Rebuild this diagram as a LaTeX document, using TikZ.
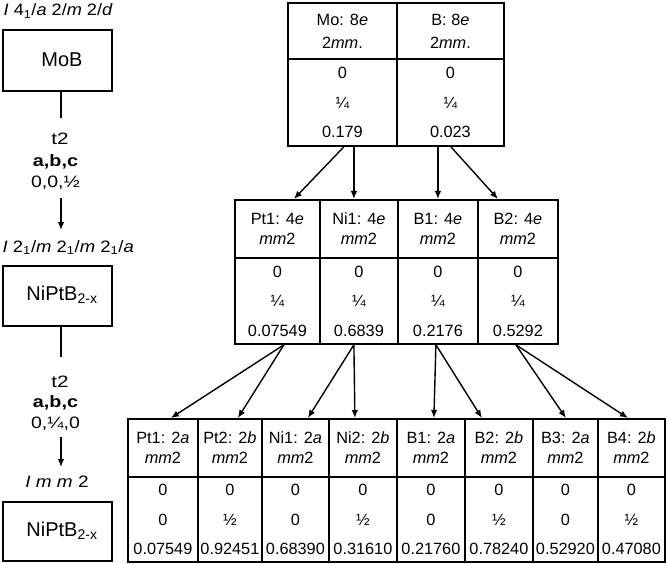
\documentclass[tikz,border=0pt]{standalone}
\usepackage{graphicx}
\usepackage{fontspec}
\setmainfont{Liberation Sans}
\usetikzlibrary{arrows.meta,calc}
% horizontally widened text for the left-hand labels
\newcommand{\widetxt}[2]{\scalebox{#1}[1]{#2}}
\begin{document}
\begin{tikzpicture}[x=1pt,y=-1pt,
  cell/.style={draw,line width=1.8pt,inner sep=0pt,anchor=north west,align=center},
  hdrtop/.style={cell,font=\fontsize{16.3}{23}\selectfont},
  hdr/.style={cell,font=\fontsize{16.3}{20}\selectfont},
  dat/.style={cell,font=\fontsize{16.3}{29.5}\selectfont},
  sgbox/.style={draw,line width=1.8pt,inner sep=0pt,anchor=north west,minimum width=109pt,minimum height=61pt},
  boxtext/.style={inner sep=0pt,font=\fontsize{20}{20}\selectfont},
  lbl/.style={inner sep=0pt,anchor=base,font=\fontsize{16.5}{16.5}\selectfont},
  sg/.style={inner sep=0pt,font=\fontsize{16.5}{16.5}\selectfont},
  conn/.style={line width=1.4pt},
  arr/.style={line width=1.4pt,-{Latex[length=8pt,width=6.5pt]}}]
\useasboundingbox (0,0) rectangle (666,564);

% ---- left column: space groups and group-subgroup steps ----
\node[sg,anchor=base west] (sg1) at (3.5,16)
  {\widetxt{1.1}{\textit{I} 4\textsubscript{1}/\textit{a} 2/\textit{m} 2/\textit{d}}};
\node[sgbox] (box1) at (2,29) {};
\node[boxtext] (box1t) at (62,59.5) {MoB};

\coordinate (l1e) at (61,118);
\draw[conn] (box1.south -| l1e) -- (l1e);
\node[lbl] (t2a) at (60,145) {\widetxt{1.25}{t2}};
\node[lbl] (abca) at (55.5,167) {\widetxt{1.2}{\textbf{a,b,c}}};
\node[lbl] (orga) at (55.5,188) {\widetxt{1.18}{0,0,½}};
\coordinate (a1s) at (61,198);
\coordinate (a1e) at (61,230);
\draw[arr] (a1s) -- (a1e);

\node[sg,anchor=base west] (sg2) at (2.5,252)
  {\widetxt{1.12}{\textit{I} 2\textsubscript{1}/\textit{m} 2\textsubscript{1}/\textit{m} 2\textsubscript{1}/\textit{a}}};
\node[sgbox,minimum height=60pt] (box2) at (2,265) {};
\node[boxtext] (box2t) at (62,295) {NiPtB\textsubscript{2-x}};

\coordinate (l2e) at (61,357);
\draw[conn] (box2.south -| l2e) -- (l2e);
\node[lbl] (t2b) at (60,387) {\widetxt{1.25}{t2}};
\node[lbl] (abcb) at (55.5,407) {\widetxt{1.2}{\textbf{a,b,c}}};
\node[lbl] (orgb) at (55.5,428) {\widetxt{1.18}{0,¼,0}};
\coordinate (a2s) at (61,437);
\coordinate (a2e) at (61,467);
\draw[arr] (a2s) -- (a2e);

\node[sg,anchor=base] (sg3) at (57,487) {\widetxt{1.15}{\textit{I m m} 2}};
\node[sgbox,minimum height=59pt] (box3) at (2,501) {};
\node[boxtext] (box3t) at (62,530.5) {NiPtB\textsubscript{2-x}};

% ---- Wyckoff positions, I 41/a 2/m 2/d ----
\foreach \n/\xa/\xb/\h/\z in {mo/287/396/{Mo: 8\textit{e}}/0.179,
                             b/396/503/{B: 8\textit{e}}/0.023}{
  \node[hdrtop,minimum width={(\xb-\xa)*1pt},minimum height=56pt] (\n-h) at (\xa,2)
    {\h\\2\textit{mm}.};
  \node[dat,minimum width={(\xb-\xa)*1pt},minimum height=87pt] (\n-d) at (\xa,58)
    {0\\¼\\\z};
}

% ---- Wyckoff positions, I 21/m 21/m 21/a ----
\foreach \n/\xa/\xb/\h/\z in {pta/234/319/{Pt1: 4\textit{e}}/0.07549,
                             nia/319/397/{Ni1: 4\textit{e}}/0.6839,
                             ba/397/477/{B1: 4\textit{e}}/0.2176,
                             bb/477/557/{B2: 4\textit{e}}/0.5292}{
  \node[hdr,minimum width={(\xb-\xa)*1pt},minimum height=58pt] (\n-h) at (\xa,199)
    {\h\\\textit{mm}2};
  \node[dat,minimum width={(\xb-\xa)*1pt},minimum height=86pt] (\n-d) at (\xa,257)
    {0\\¼\\\z};
}

% ---- Wyckoff positions, I m m 2 ----
\foreach \n/\xa/\xb/\h/\y/\z in {c1/127/197/{Pt1: 2\textit{a}}/0/0.07549,
                                c2/197/261/{Pt2: 2\textit{b}}/½/0.92451,
                                c3/261/328/{Ni1: 2\textit{a}}/0/0.68390,
                                c4/328/396/{Ni2: 2\textit{b}}/½/0.31610,
                                c5/396/464/{B1: 2\textit{a}}/0/0.21760,
                                c6/464/532/{B2: 2\textit{b}}/½/0.78240,
                                c7/532/597/{B3: 2\textit{a}}/0/0.52920,
                                c8/597/664/{B4: 2\textit{b}}/½/0.47080}{
  \node[hdr,minimum width={(\xb-\xa)*1pt},minimum height=58pt] (\n-h) at (\xa,418)
    {\h\\\textit{mm}2};
  \node[dat,minimum width={(\xb-\xa)*1pt},minimum height=85pt] (\n-d) at (\xa,476)
    {0\\\y\\\z};
}

% ---- splitting arrows, first step ----
\draw[arr] ([xshift=1.5pt]mo-d.south) -- ([xshift=16.5pt]pta-h.north);
\draw[arr] ([xshift=11.5pt]mo-d.south) -- ([xshift=-5pt]nia-h.north);
\draw[arr] ([xshift=-12.5pt]b-d.south) -- (ba-h.north);
\draw[arr] ([xshift=0.5pt]b-d.south) -- ([xshift=-20pt]bb-h.north);

% ---- splitting arrows, second step ----
\draw[arr] ([xshift=6.5pt]pta-d.south) -- ([xshift=8pt]c1-h.north);
\draw[arr] ([xshift=6.5pt]pta-d.south) -- ([xshift=8pt]c2-h.north);
\draw[arr] ([xshift=-5pt]nia-d.south) -- ([xshift=12.5pt]c3-h.north);
\draw[arr] ([xshift=-5pt]nia-d.south) -- ([xshift=-8pt]c4-h.north);
\draw[arr] ([xshift=-2pt]ba-d.south) -- ([xshift=3pt]c5-h.north);
\draw[arr] ([xshift=-2pt]ba-d.south) -- ([xshift=-17pt]c6-h.north);
\draw[arr] ([xshift=-2pt]bb-d.south) -- ([xshift=0.5pt]c7-h.north);
\draw[arr] ([xshift=-2pt]bb-d.south) -- ([xshift=-3.5pt]c8-h.north);
\end{tikzpicture}
\end{document}
